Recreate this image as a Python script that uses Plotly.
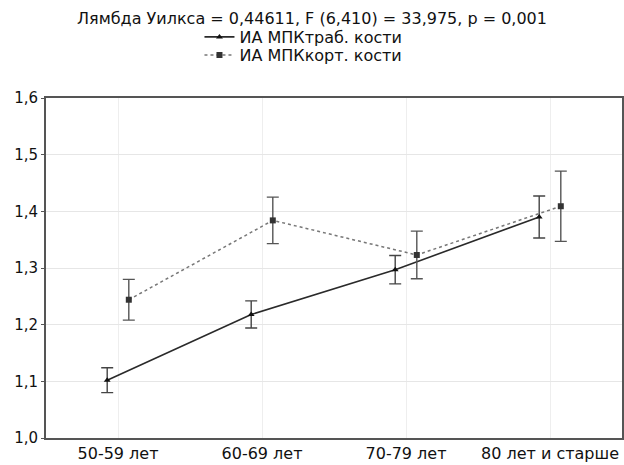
import numpy as np
import plotly.graph_objects as go

categories = ["50-59 лет", "60-69 лет", "70-79 лет", "80 лет и старше"]
trab_mean = [1.102, 1.218, 1.297, 1.390]
trab_err = [0.022, 0.024, 0.025, 0.037]
kort_mean = [1.244, 1.384, 1.323, 1.409]
kort_err = [0.036, 0.041, 0.042, 0.062]
y_ticks = [1.0, 1.1, 1.2, 1.3, 1.4, 1.5, 1.6]

title_text = "Лямбда Уилкса = 0,44611, F (6,410) = 33,975, p = 0,001"
name_trab = "ИА МПКтраб. кости"
name_kort = "ИА МПКкорт. кости"

FONT = "DejaVu Sans, Liberation Sans, Arial, sans-serif"
W, H = 624, 465
ML, MR, MT, MB = 46, 0, 98, 27
plot_h = H - MT - MB
plot_w = W - ML - MR

pos = np.arange(len(categories))
offset = 0.075

fig = go.Figure()
fig.add_trace(go.Scatter(
    x=pos - offset, y=trab_mean, name=name_trab, mode="lines+markers",
    line=dict(color="#2a2a2a", width=1.6),
    marker=dict(symbol="triangle-up", size=6, color="#111"),
    error_y=dict(type="data", array=trab_err, color="#444", thickness=1.4, width=6),
    legend="legend",
))
fig.add_trace(go.Scatter(
    x=pos + offset, y=kort_mean, name=name_kort, mode="lines+markers",
    line=dict(color="#777", width=1.5, dash="dot"),
    marker=dict(symbol="square", size=6, color="#333"),
    error_y=dict(type="data", array=kort_err, color="#555", thickness=1.4, width=6),
    legend="legend2",
))

def leg(y_px):
    return dict(orientation="v", x=(200 - ML) / plot_w, xanchor="left",
                y=1 + (MT - y_px) / plot_h, yanchor="middle",
                font=dict(size=16, color="#111", family=FONT),
                bgcolor="rgba(0,0,0,0)", itemwidth=30)

fig.update_layout(
    width=W, height=H,
    margin=dict(l=ML, r=MR, t=MT, b=MB),
    paper_bgcolor="white", plot_bgcolor="white",
    separators=", ",
    font=dict(family=FONT, color="#111", size=15),
    title=dict(text=title_text, x=0.5, xanchor="center", y=1 - 18 / H,
               yanchor="middle", yref="container", font=dict(size=16, color="#111")),
    legend=leg(37),
    legend2=leg(55),
    showlegend=True,
)
fig.update_xaxes(
    range=[-0.5, 3.5], tickmode="array", tickvals=list(pos), ticktext=categories,
    showgrid=True, gridcolor="#eeeeee", gridwidth=1,
    showline=True, linecolor="#555", linewidth=2, mirror=True,
    ticks="", tickfont=dict(size=16, color="#111"), zeroline=False,
)
fig.update_yaxes(
    range=[1.0, 1.6], tickmode="array", tickvals=y_ticks, tickformat=".1f",
    showgrid=True, gridcolor="#e6e6e6", gridwidth=1,
    showline=True, linecolor="#555", linewidth=2, mirror=True,
    ticks="outside", ticklen=3, tickcolor="#555",
    tickfont=dict(size=15, color="#111"), zeroline=False,
)

fig.write_html("out.html", config={"displayModeBar": False},
               post_script="document.body.style.margin='0';")
